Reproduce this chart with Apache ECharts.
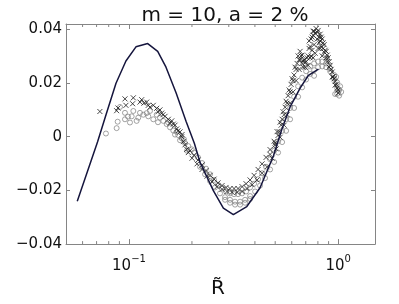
<!DOCTYPE html>
<html>
<head>
<meta charset="utf-8">
<script src="https://cdn.jsdelivr.net/npm/echarts@6/dist/echarts.min.js"></script>
<style>
html,body{margin:0;padding:0;background:#fff;}
#chart{width:399px;height:304px;}
</style>
</head>
<body>
<div id="chart"></div>
<script>
// ---- data ----
const titleText = 'm = 10, a = 2 %';
const xName = 'R\u0303';
const xMin = 0.05, xMax = 1.5;
const yMin = -0.04, yMax = 0.042;
const yTicks = [-0.04, -0.02, 0, 0.02, 0.04];
const yTickLabels = ['\u22120.04', '\u22120.02', '0', '0.02', '0.04'];
const minorTicks = [0.06, 0.07, 0.08, 0.09, 0.2, 0.3, 0.4, 0.5, 0.6, 0.7, 0.8, 0.9];

const theoryR = [0.0566, 0.0708, 0.0776, 0.0867, 0.0967, 0.108, 0.1229, 0.1372, 0.1503, 0.1679, 0.1874, 0.2053, 0.2186, 0.2531, 0.2826, 0.3155, 0.3658, 0.4233, 0.4903, 0.5376, 0.5891, 0.6579, 0.7210, 0.8050];
const theoryY = [-0.0240, -0.0019, 0.0081, 0.0199, 0.0282, 0.0335, 0.0347, 0.0318, 0.0259, 0.0164, 0.0058, -0.0024, -0.0095, -0.0201, -0.0266, -0.0290, -0.0260, -0.0190, -0.0072, 0.0027, 0.0111, 0.0181, 0.0229, 0.0252];

const crossPoints = [
  [0.0726, 0.0094], [0.0873, 0.0097], [0.0886, 0.0107], [0.0957, 0.0141], [0.0967, 0.0117],
  [0.1049, 0.0145], [0.1041, 0.0123], [0.1129, 0.0129], [0.1150, 0.0138], [0.1179, 0.0125],
  [0.1215, 0.0129], [0.1237, 0.0117], [0.1260, 0.0110], [0.1307, 0.0117], [0.1357, 0.0106],
  [0.1376, 0.0093], [0.1406, 0.0100], [0.1433, 0.0088], [0.1454, 0.0082], [0.1487, 0.0076],
  [0.1542, 0.0065], [0.1571, 0.0050], [0.1601, 0.0059], [0.1629, 0.0047], [0.1660, 0.0043],
  [0.1691, 0.0029], [0.1715, 0.0022], [0.1754, 0.0018], [0.1793, 0.0008], [0.1787, 0.0000],
  [0.1819, -0.0018], [0.1853, -0.0030], [0.1888, -0.0047], [0.1922, -0.0059],
  // upper dark track
  [0.1958, -0.0052], [0.2047, -0.0069], [0.2138, -0.0087], [0.2235, -0.0105], [0.2336, -0.0126],
  [0.2441, -0.0144], [0.2551, -0.0158], [0.2665, -0.0172], [0.2786, -0.0182], [0.2911, -0.0189],
  [0.3041, -0.0193], [0.3179, -0.0193], [0.3322, -0.0193], [0.3473, -0.0186], [0.3629, -0.0175],
  [0.3793, -0.0161], [0.3964, -0.0144], [0.4143, -0.0122], [0.4328, -0.0101], [0.4522, -0.0077],
  [0.4727, -0.0048], [0.4941, -0.0017], [0.5106, 0.0019], [0.5279, 0.0054], [0.5455, 0.0093],
  [0.5639, 0.0132], [0.5829, 0.0174], [0.6023, 0.0216], [0.6224, 0.0259], [0.6435, 0.0301],
  [0.6579, 0.0318], [0.6726, 0.0304], [0.6875, 0.0287], [0.7028, 0.0280], [0.7185, 0.0301],
  [0.7345, 0.0336], [0.7507, 0.0371], [0.7675, 0.0393], [0.7847, 0.0403], [0.8022, 0.0396],
  [0.8202, 0.0382], [0.8384, 0.0364], [0.8570, 0.0343], [0.8762, 0.0318], [0.8958, 0.0294],
  [0.9156, 0.0266], [0.9361, 0.0241], [0.9570, 0.0216], [0.9781, 0.0195], [1.000, 0.0174],
  // lower dark track
  [0.2002, -0.0080], [0.2115, -0.0101], [0.2235, -0.0122], [0.2361, -0.0147], [0.2495, -0.0168],
  [0.2636, -0.0186], [0.2786, -0.0196], [0.2943, -0.0204], [0.3109, -0.0207], [0.3286, -0.0207],
  [0.3473, -0.0204], [0.3669, -0.0193], [0.3878, -0.0179], [0.4098, -0.0161], [0.4328, -0.0136],
  [0.4573, -0.0112], [0.4833, -0.0080], [0.5050, -0.0045], [0.5279, -0.0002], [0.5516, 0.0043],
  [0.5702, 0.0082], [0.5892, 0.0125], [0.6089, 0.0167], [0.6295, 0.0209], [0.6506, 0.0251],
  [0.6726, 0.0273], [0.6951, 0.0259], [0.7185, 0.0266], [0.7426, 0.0301], [0.7675, 0.0343],
  [0.7935, 0.0364], [0.8202, 0.0357], [0.8477, 0.0329], [0.8762, 0.0294], [0.9055, 0.0259],
  [0.9361, 0.0223], [0.9674, 0.0192], [1.000, 0.0163],
  // middle dark track (rise and double peak)
  [0.4995, -0.0031], [0.5162, 0.0005], [0.5338, 0.0043], [0.5516, 0.0082], [0.5702, 0.0125],
  [0.5892, 0.0167], [0.6089, 0.0209], [0.6295, 0.0251], [0.6506, 0.0287], [0.6652, 0.0301],
  [0.6799, 0.0283], [0.6951, 0.0276], [0.7106, 0.0294], [0.7264, 0.0329], [0.7426, 0.0364],
  [0.7591, 0.0393], [0.7762, 0.0385], [0.7935, 0.0389], [0.8111, 0.0350], [0.8291, 0.0371],
  [0.8477, 0.0350], [0.8666, 0.0322], [0.8859, 0.0304], [0.9055, 0.0280], [0.9258, 0.0251],
  [0.9464, 0.0223], [0.9674, 0.0206], [0.9890, 0.0181], [0.6799, 0.0259], [0.7345, 0.0294],
  [0.7591, 0.0294], [0.8202, 0.0329], [0.8384, 0.0301],
  // fill of the peaks
  [0.6579, 0.0287], [0.6364, 0.0273], [0.6157, 0.0230], [0.5957, 0.0195], [0.5765, 0.0153],
  [0.7264, 0.0357], [0.7591, 0.0378], [0.8111, 0.0371], [0.8291, 0.0336], [0.8570, 0.0315],
  [0.8859, 0.0280], [0.7762, 0.0311], [0.8022, 0.0329], [0.7507, 0.0322],
  [0.4727, -0.0066], [0.4995, -0.0024], [0.5221, 0.0019], [0.5397, 0.0065], [0.5577, 0.0110]
];

const circlePoints = [
  [0.0776, 0.0012], [0.0873, 0.0032], [0.0883, 0.0056], [0.0906, 0.0111], [0.0957, 0.0065],
  [0.0957, 0.0089], [0.0989, 0.0075], [0.1011, 0.0053], [0.1030, 0.0076], [0.1049, 0.0096],
  [0.1088, 0.0059], [0.1108, 0.0071], [0.1129, 0.0089], [0.1171, 0.0082], [0.1215, 0.0088],
  [0.1237, 0.0076], [0.1260, 0.0096], [0.1307, 0.0065], [0.1357, 0.0082], [0.1376, 0.0054],
  [0.1406, 0.0071], [0.1459, 0.0059], [0.1515, 0.0047], [0.1537, 0.0054], [0.1571, 0.0035],
  [0.1629, 0.0023], [0.1660, 0.0008], [0.1691, 0.0018], [0.1721, 0.0006], [0.1754, -0.0013],
  [0.1787, -0.0006], [0.1833, -0.0010], [0.1853, -0.0024], [0.1894, -0.0052], [0.1922, -0.0035],
  [0.1995, -0.0047],
  // upper gray track
  [0.2047, -0.0059], [0.2138, -0.0077], [0.2235, -0.0098], [0.2336, -0.0119], [0.2441, -0.0140],
  [0.2551, -0.0161], [0.2665, -0.0179], [0.2786, -0.0193], [0.2911, -0.0204], [0.3041, -0.0211],
  [0.3179, -0.0214], [0.3322, -0.0214], [0.3473, -0.0211], [0.3629, -0.0204], [0.3793, -0.0189],
  [0.3964, -0.0175], [0.4143, -0.0158], [0.4328, -0.0136], [0.4522, -0.0112], [0.4727, -0.0084],
  [0.4941, -0.0052], [0.5162, -0.0017], [0.5397, 0.0022], [0.5639, 0.0065], [0.5892, 0.0107],
  [0.6157, 0.0149], [0.6435, 0.0188], [0.6726, 0.0220], [0.7028, 0.0244], [0.7345, 0.0262],
  [0.7675, 0.0273], [0.8022, 0.0280], [0.8384, 0.0280], [0.8762, 0.0273], [0.9156, 0.0255],
  [0.9570, 0.0230], [0.9890, 0.0202], [1.011, 0.0174],
  // lower gray track
  [0.2186, -0.0112], [0.2310, -0.0140], [0.2441, -0.0165], [0.2579, -0.0189], [0.2724, -0.0211],
  [0.2879, -0.0225], [0.3041, -0.0235], [0.3214, -0.0242], [0.3397, -0.0242], [0.3589, -0.0235],
  [0.3793, -0.0221], [0.4009, -0.0204], [0.4233, -0.0182], [0.4473, -0.0154], [0.4727, -0.0122],
  [0.4941, -0.0094], [0.5162, -0.0059], [0.5397, -0.0020], [0.5639, 0.0022], [0.5892, 0.0065],
  [0.6157, 0.0107], [0.6435, 0.0149], [0.6726, 0.0184], [0.7028, 0.0213], [0.7345, 0.0234],
  [0.7675, 0.0248], [0.8022, 0.0259], [0.8384, 0.0262], [0.8762, 0.0259], [0.9156, 0.0244],
  [0.9570, 0.0216], [0.9890, 0.0181], [1.011, 0.0153],
  // lowest gray near the minimum
  [0.2879, -0.0235], [0.3041, -0.0246], [0.3214, -0.0253], [0.3397, -0.0253], [0.3589, -0.0246],
  [0.3793, -0.0232],
  // stray circles at the end
  [0.9890, 0.0160], [1.022, 0.0188], [0.9781, 0.0223], [0.7675, 0.0227], [1.034, 0.0167], [0.9674, 0.0159]
];

// ---- chart ----
const FONT = 'DejaVu Sans';
const AXIS_COLOR = '#858585';
const chart = echarts.init(document.getElementById('chart'), null, {renderer: 'canvas'});

function isDecade(v) {
  const l = Math.log10(v);
  return Math.abs(l - Math.round(l)) < 1e-6;
}

const theoryData = theoryR.map((r, i) => [r, theoryY[i]]);

const option = {
  animation: false,
  backgroundColor: '#fff',
  title: {
    text: titleText,
    left: 220, top: 1, textAlign: 'center',
    textStyle: {fontFamily: FONT, fontSize: 20, fontWeight: 'normal', color: '#111'}
  },
  grid: {left: 66, right: 24, top: 24, bottom: 49, containLabel: false},
  xAxis: [{
    type: 'log', logBase: 10, min: xMin, max: xMax,
    name: xName, nameLocation: 'middle', nameGap: 10,
    nameTextStyle: {fontFamily: FONT, fontSize: 20, color: '#111', padding: [0, 5, 0, 0]},
    axisLine: {show: true, onZero: false, lineStyle: {color: AXIS_COLOR, width: 1}},
    axisTick: {show: true, inside: true, length: 5, lineStyle: {color: AXIS_COLOR}},
    splitLine: {show: false},
    axisLabel: {
      margin: 10,
      formatter: function (v) {
        if (!isDecade(v)) return '';
        return '{b|10}{s|' + String(Math.round(Math.log10(v))).replace('-', '\u2212') + '}';
      },
      rich: {
        b: {fontFamily: FONT, fontSize: 15, color: '#111', lineHeight: 20, verticalAlign: 'bottom'},
        s: {fontFamily: FONT, fontSize: 10, color: '#111', lineHeight: 20, verticalAlign: 'top'}
      }
    }
  }, {
    type: 'log', logBase: 10, min: xMin, max: xMax, position: 'top',
    axisLine: {show: true, onZero: false, lineStyle: {color: AXIS_COLOR, width: 1}},
    axisTick: {show: true, inside: true, length: 5, lineStyle: {color: AXIS_COLOR}},
    axisLabel: {show: false}, splitLine: {show: false}
  }],
  yAxis: [{
    type: 'value', min: yMin, max: yMax, interval: 0.02,
    axisLine: {show: true, onZero: false, lineStyle: {color: AXIS_COLOR, width: 1}},
    axisTick: {show: true, inside: true, length: 4, lineStyle: {color: AXIS_COLOR}},
    splitLine: {show: false},
    axisLabel: {
      margin: 4, fontFamily: FONT, fontSize: 15, color: '#111',
      formatter: function (v) {
        for (let i = 0; i < yTicks.length; i++) {
          if (Math.abs(v - yTicks[i]) < 1e-9) return yTickLabels[i];
        }
        return '';
      }
    }
  }, {
    type: 'value', min: yMin, max: yMax, interval: 0.02, position: 'right',
    axisLine: {show: true, onZero: false, lineStyle: {color: AXIS_COLOR, width: 1}},
    axisTick: {show: true, inside: true, length: 4, lineStyle: {color: AXIS_COLOR}},
    axisLabel: {show: false}, splitLine: {show: false}
  }],
  series: [
    {
      type: 'custom', name: 'minor', xAxisIndex: 0, yAxisIndex: 0, silent: true, clip: false,
      data: minorTicks.map(v => [v]),
      encode: {x: 0},
      renderItem: function (params, api) {
        const v = api.value(0);
        const pb = api.coord([v, yMin]);
        const pt = api.coord([v, yMax]);
        return {
          type: 'group',
          children: [
            {type: 'line', shape: {x1: pb[0], y1: pb[1], x2: pb[0], y2: pb[1] - 3}, style: {stroke: AXIS_COLOR, lineWidth: 1}},
            {type: 'line', shape: {x1: pt[0], y1: pt[1], x2: pt[0], y2: pt[1] + 3}, style: {stroke: AXIS_COLOR, lineWidth: 1}}
          ]
        };
      },
      z: 1
    },
    {
      type: 'scatter', name: 'circles', data: circlePoints,
      symbol: 'circle', symbolSize: 5,
      itemStyle: {color: 'rgba(0,0,0,0)', borderColor: '#7f7f7f', borderWidth: 0.9},
      z: 2
    },
    {
      type: 'scatter', name: 'crosses', data: crossPoints,
      symbol: 'path://M0,0L10,10M10,0L0,10', symbolSize: 5,
      itemStyle: {color: 'rgba(0,0,0,0)', borderColor: '#1a1a1a', borderWidth: 1},
      z: 3
    },
    {
      type: 'line', name: 'theory', data: theoryData,
      showSymbol: false, symbol: 'none', smooth: false,
      lineStyle: {color: '#15153d', width: 1.5},
      z: 4
    }
  ]
};
chart.setOption(option);
</script>
</body>
</html>
